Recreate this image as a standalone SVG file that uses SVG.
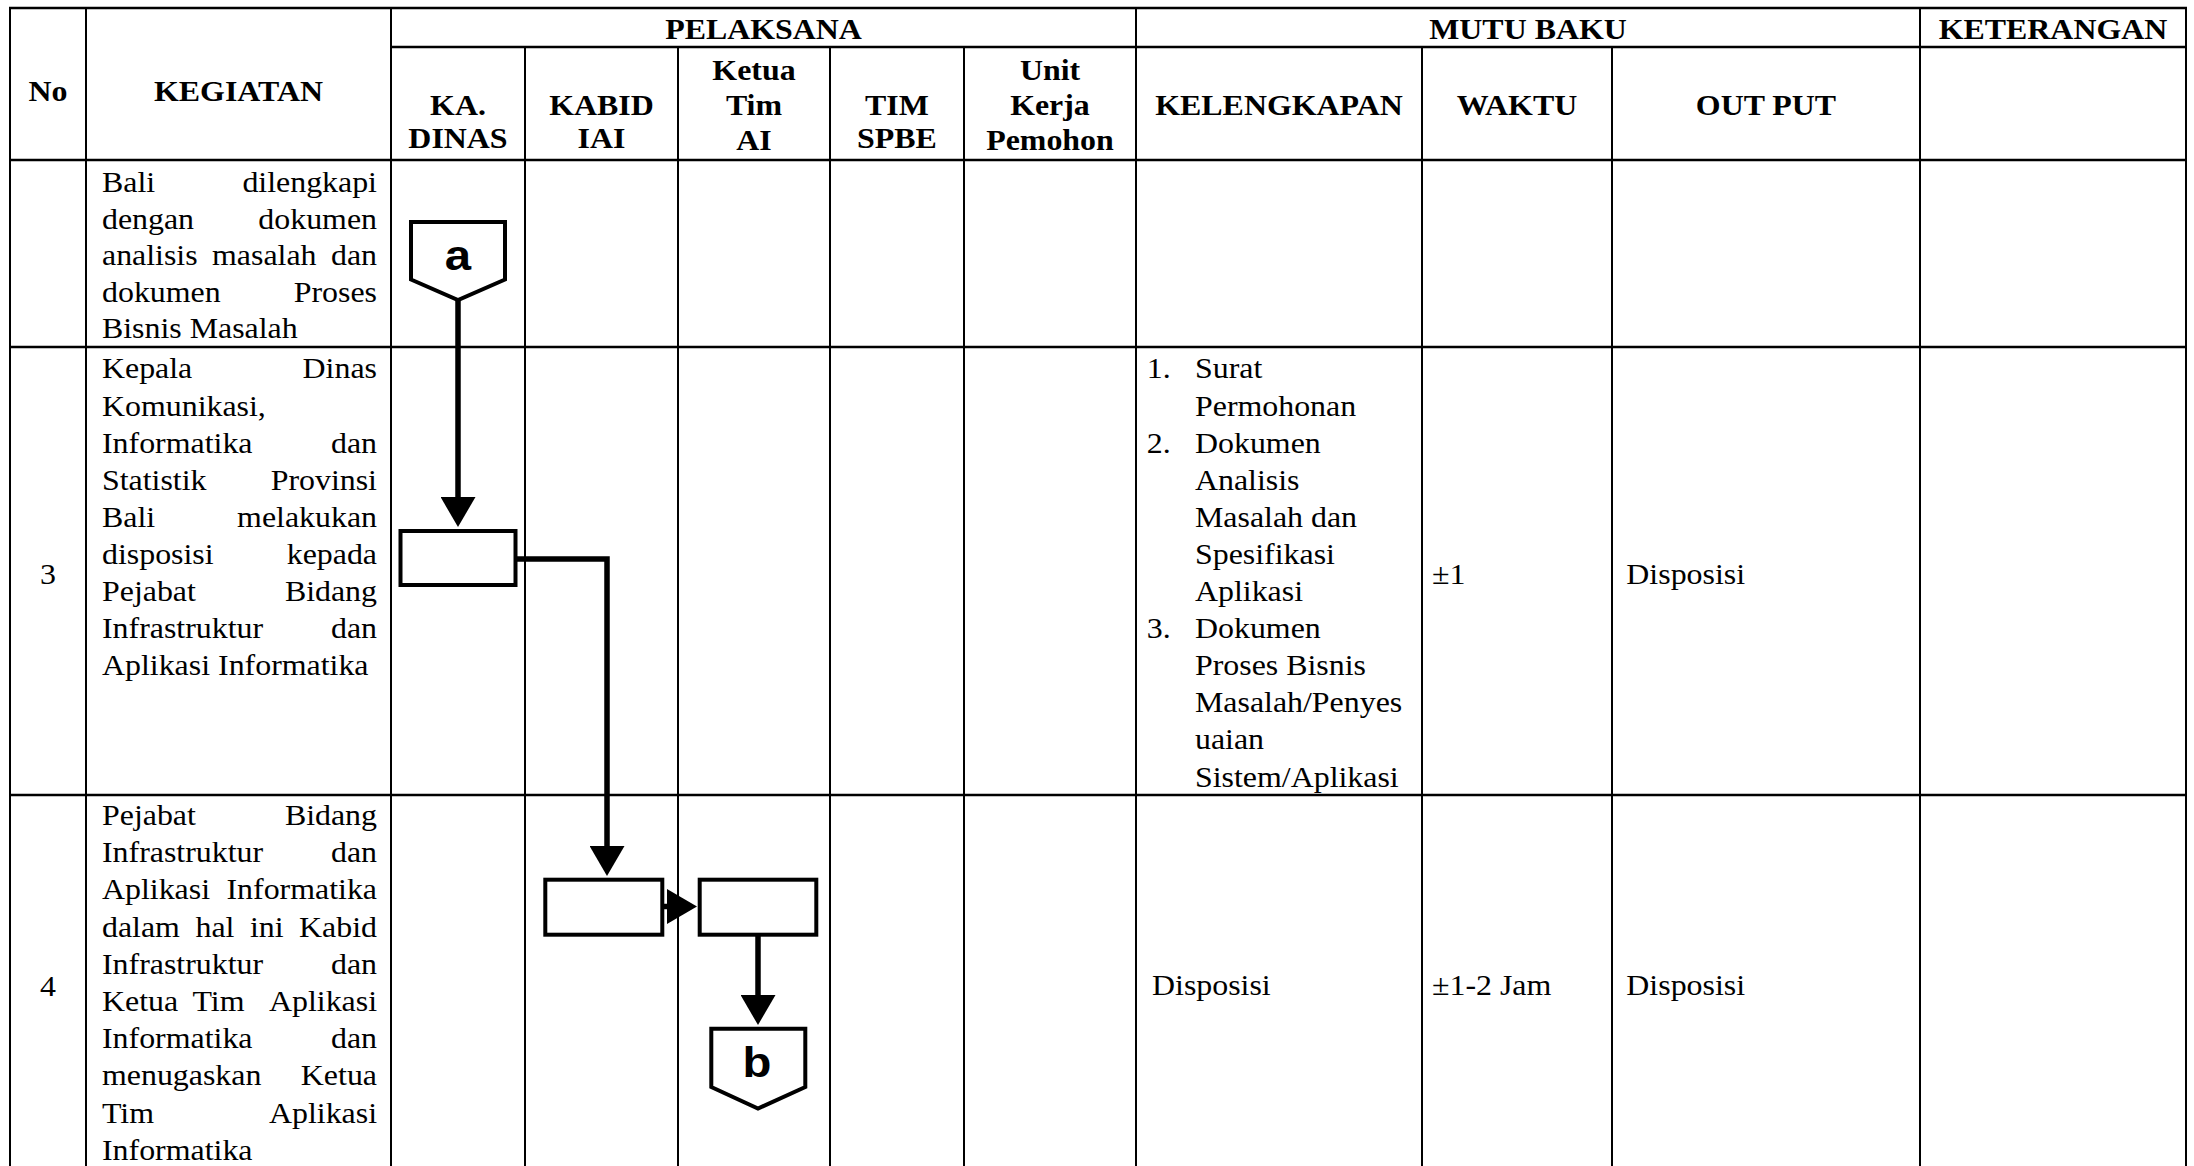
<svg xmlns="http://www.w3.org/2000/svg" width="2194" height="1166" viewBox="0 0 2194 1166">
<defs>
<style>
.grid line{stroke:#000;stroke-width:2}
.grid line.h{stroke-width:2.6}
.hd{font-family:"Liberation Serif","Times New Roman",serif;font-weight:bold;font-size:29px;text-anchor:middle;fill:#000}
.bd{font-family:"Liberation Serif","Times New Roman",serif;font-size:29px;fill:#000}
.bd.r{text-anchor:end}
.bd.c{text-anchor:middle}
.shape{fill:#fff;stroke:#000;stroke-width:4}
.lbl{font-family:"Liberation Sans",Arial,sans-serif;font-weight:bold;font-size:43px;text-anchor:middle;fill:#000}
.conn path{fill:none;stroke:#000;stroke-width:5.5}
</style>
<marker id="arr" viewBox="0 0 30 35" refX="0" refY="17.5" markerWidth="30" markerHeight="35" markerUnits="userSpaceOnUse" orient="auto">
<path d="M0,0 L30,17.5 L0,35 Z" fill="#000"/>
</marker>
</defs>
<rect width="2194" height="1166" fill="#fff"/>
<g class="grid" id="table">
<line class="h" x1="9" y1="8" x2="2187" y2="8"/>
<line class="h" x1="391" y1="47" x2="2187" y2="47"/>
<line class="h" x1="9" y1="160" x2="2187" y2="160"/>
<line class="h" x1="9" y1="347" x2="2187" y2="347"/>
<line class="h" x1="9" y1="795" x2="2187" y2="795"/>
<line x1="10" y1="8" x2="10" y2="1166"/>
<line x1="86" y1="8" x2="86" y2="1166"/>
<line x1="391" y1="8" x2="391" y2="1166"/>
<line x1="525" y1="47" x2="525" y2="1166"/>
<line x1="678" y1="47" x2="678" y2="1166"/>
<line x1="830" y1="47" x2="830" y2="1166"/>
<line x1="964" y1="47" x2="964" y2="1166"/>
<line x1="1136" y1="8" x2="1136" y2="1166"/>
<line x1="1422" y1="47" x2="1422" y2="1166"/>
<line x1="1612" y1="47" x2="1612" y2="1166"/>
<line x1="1920" y1="8" x2="1920" y2="1166"/>
<line x1="2186" y1="8" x2="2186" y2="1166"/>
</g>
<g id="texts" transform="scale(1.1 1)">
<text class="hd" x="43.64" y="101">No</text>
<text class="hd" x="216.82" y="101">KEGIATAN</text>
<text class="hd" x="694.09" y="39">PELAKSANA</text>
<text class="hd" x="1389.09" y="39">MUTU BAKU</text>
<text class="hd" x="1866.36" y="39">KETERANGAN</text>
<text class="hd" x="416.36" y="115">KA.</text>
<text class="hd" x="416.36" y="148">DINAS</text>
<text class="hd" x="546.82" y="115">KABID</text>
<text class="hd" x="546.82" y="148">IAI</text>
<text class="hd" x="685.45" y="80">Ketua</text>
<text class="hd" x="685.45" y="115">Tim</text>
<text class="hd" x="685.45" y="150">AI</text>
<text class="hd" x="815.45" y="115">TIM</text>
<text class="hd" x="815.45" y="148">SPBE</text>
<text class="hd" x="954.55" y="80">Unit</text>
<text class="hd" x="954.55" y="115">Kerja</text>
<text class="hd" x="954.55" y="150">Pemohon</text>
<text class="hd" x="1162.73" y="115">KELENGKAPAN</text>
<text class="hd" x="1379.09" y="115">WAKTU</text>
<text class="hd" x="1605.45" y="115">OUT PUT</text>

<text class="bd" x="92.73" y="192.3">Bali</text><text class="bd r" x="342.73" y="192.3">dilengkapi</text>
<text class="bd" x="92.73" y="228.8">dengan</text><text class="bd r" x="342.73" y="228.8">dokumen</text>
<text class="bd" x="92.73" y="265.3">analisis</text><text class="bd" x="192.78" y="265.3">masalah</text><text class="bd r" x="342.73" y="265.3">dan</text>
<text class="bd" x="92.73" y="301.8">dokumen</text><text class="bd r" x="342.73" y="301.8">Proses</text>
<text class="bd" x="92.73" y="338.3">Bisnis Masalah</text>

<text class="bd c" x="43.64" y="584">3</text>
<text class="bd" x="92.73" y="378.5">Kepala</text><text class="bd r" x="342.73" y="378.5">Dinas</text>
<text class="bd" x="92.73" y="415.6">Komunikasi,</text>
<text class="bd" x="92.73" y="452.7">Informatika</text><text class="bd r" x="342.73" y="452.7">dan</text>
<text class="bd" x="92.73" y="489.8">Statistik</text><text class="bd r" x="342.73" y="489.8">Provinsi</text>
<text class="bd" x="92.73" y="526.9">Bali</text><text class="bd r" x="342.73" y="526.9">melakukan</text>
<text class="bd" x="92.73" y="564">disposisi</text><text class="bd r" x="342.73" y="564">kepada</text>
<text class="bd" x="92.73" y="601.1">Pejabat</text><text class="bd r" x="342.73" y="601.1">Bidang</text>
<text class="bd" x="92.73" y="638.2">Infrastruktur</text><text class="bd r" x="342.73" y="638.2">dan</text>
<text class="bd" x="92.73" y="675.3">Aplikasi Informatika</text>

<text class="bd" x="1042.45" y="378.5">1.</text><text class="bd" x="1086.36" y="378.5">Surat</text>
<text class="bd" x="1086.36" y="415.6">Permohonan</text>
<text class="bd" x="1042.45" y="452.7">2.</text><text class="bd" x="1086.36" y="452.7">Dokumen</text>
<text class="bd" x="1086.36" y="489.8">Analisis</text>
<text class="bd" x="1086.36" y="526.9">Masalah dan</text>
<text class="bd" x="1086.36" y="564">Spesifikasi</text>
<text class="bd" x="1086.36" y="601.1">Aplikasi</text>
<text class="bd" x="1042.45" y="638.2">3.</text><text class="bd" x="1086.36" y="638.2">Dokumen</text>
<text class="bd" x="1086.36" y="675.3">Proses Bisnis</text>
<text class="bd" x="1086.36" y="712.4">Masalah/Penyes</text>
<text class="bd" x="1086.36" y="749.5">uaian</text>
<text class="bd" x="1086.36" y="786.6">Sistem/Aplikasi</text>
<text class="bd" x="1301.8" y="584">±1</text>
<text class="bd" x="1478.5" y="584">Disposisi</text>

<text class="bd c" x="43.64" y="996">4</text>
<text class="bd" x="92.73" y="825">Pejabat</text><text class="bd r" x="342.73" y="825">Bidang</text>
<text class="bd" x="92.73" y="862.2">Infrastruktur</text><text class="bd r" x="342.73" y="862.2">dan</text>
<text class="bd" x="92.73" y="899.4">Aplikasi</text><text class="bd r" x="342.73" y="899.4">Informatika</text>
<text class="bd" x="92.73" y="936.6">dalam</text><text class="bd" x="177.7" y="936.6">hal</text><text class="bd" x="227.2" y="936.6">ini</text><text class="bd r" x="342.73" y="936.6">Kabid</text>
<text class="bd" x="92.73" y="973.8">Infrastruktur</text><text class="bd r" x="342.73" y="973.8">dan</text>
<text class="bd" x="92.73" y="1011">Ketua</text><text class="bd" x="175" y="1011">Tim</text><text class="bd r" x="342.73" y="1011">Aplikasi</text>
<text class="bd" x="92.73" y="1048.2">Informatika</text><text class="bd r" x="342.73" y="1048.2">dan</text>
<text class="bd" x="92.73" y="1085.4">menugaskan</text><text class="bd r" x="342.73" y="1085.4">Ketua</text>
<text class="bd" x="92.73" y="1122.6">Tim</text><text class="bd r" x="342.73" y="1122.6">Aplikasi</text>
<text class="bd" x="92.73" y="1159.8">Informatika</text>
<text class="bd" x="1047.27" y="995">Disposisi</text>
<text class="bd" x="1301.8" y="995">±1-2 Jam</text>
<text class="bd" x="1478.5" y="995">Disposisi</text>
</g>
<g class="conn" id="connectors">
<path d="M458,301 V497" marker-end="url(#arr)"/>
<path d="M517,559 H607 V846" marker-end="url(#arr)"/>
<path d="M663,906.5 H667" marker-end="url(#arr)"/>
<path d="M758,936 V995" marker-end="url(#arr)"/>
</g>
<g id="node-a">
<path class="shape" d="M411,222 H505 V279.5 L458,300 L411,279.5 Z"/>
<text class="lbl" transform="translate(458 270) scale(1.1 1)">a</text>
</g>
<g id="node-box3">
<rect class="shape" x="400.5" y="531" width="115" height="54"/>
</g>
<g id="node-box4a">
<rect class="shape" x="545.3" y="879.7" width="117" height="55"/>
</g>
<g id="node-box4b">
<rect class="shape" x="699.7" y="879.7" width="116.6" height="55"/>
</g>
<g id="node-b">
<path class="shape" d="M711.3,1028.7 H805.3 V1087 L758,1108.5 L711.3,1087 Z"/>
<text class="lbl" transform="translate(757 1077) scale(1.1 1)">b</text>
</g>
</svg>
